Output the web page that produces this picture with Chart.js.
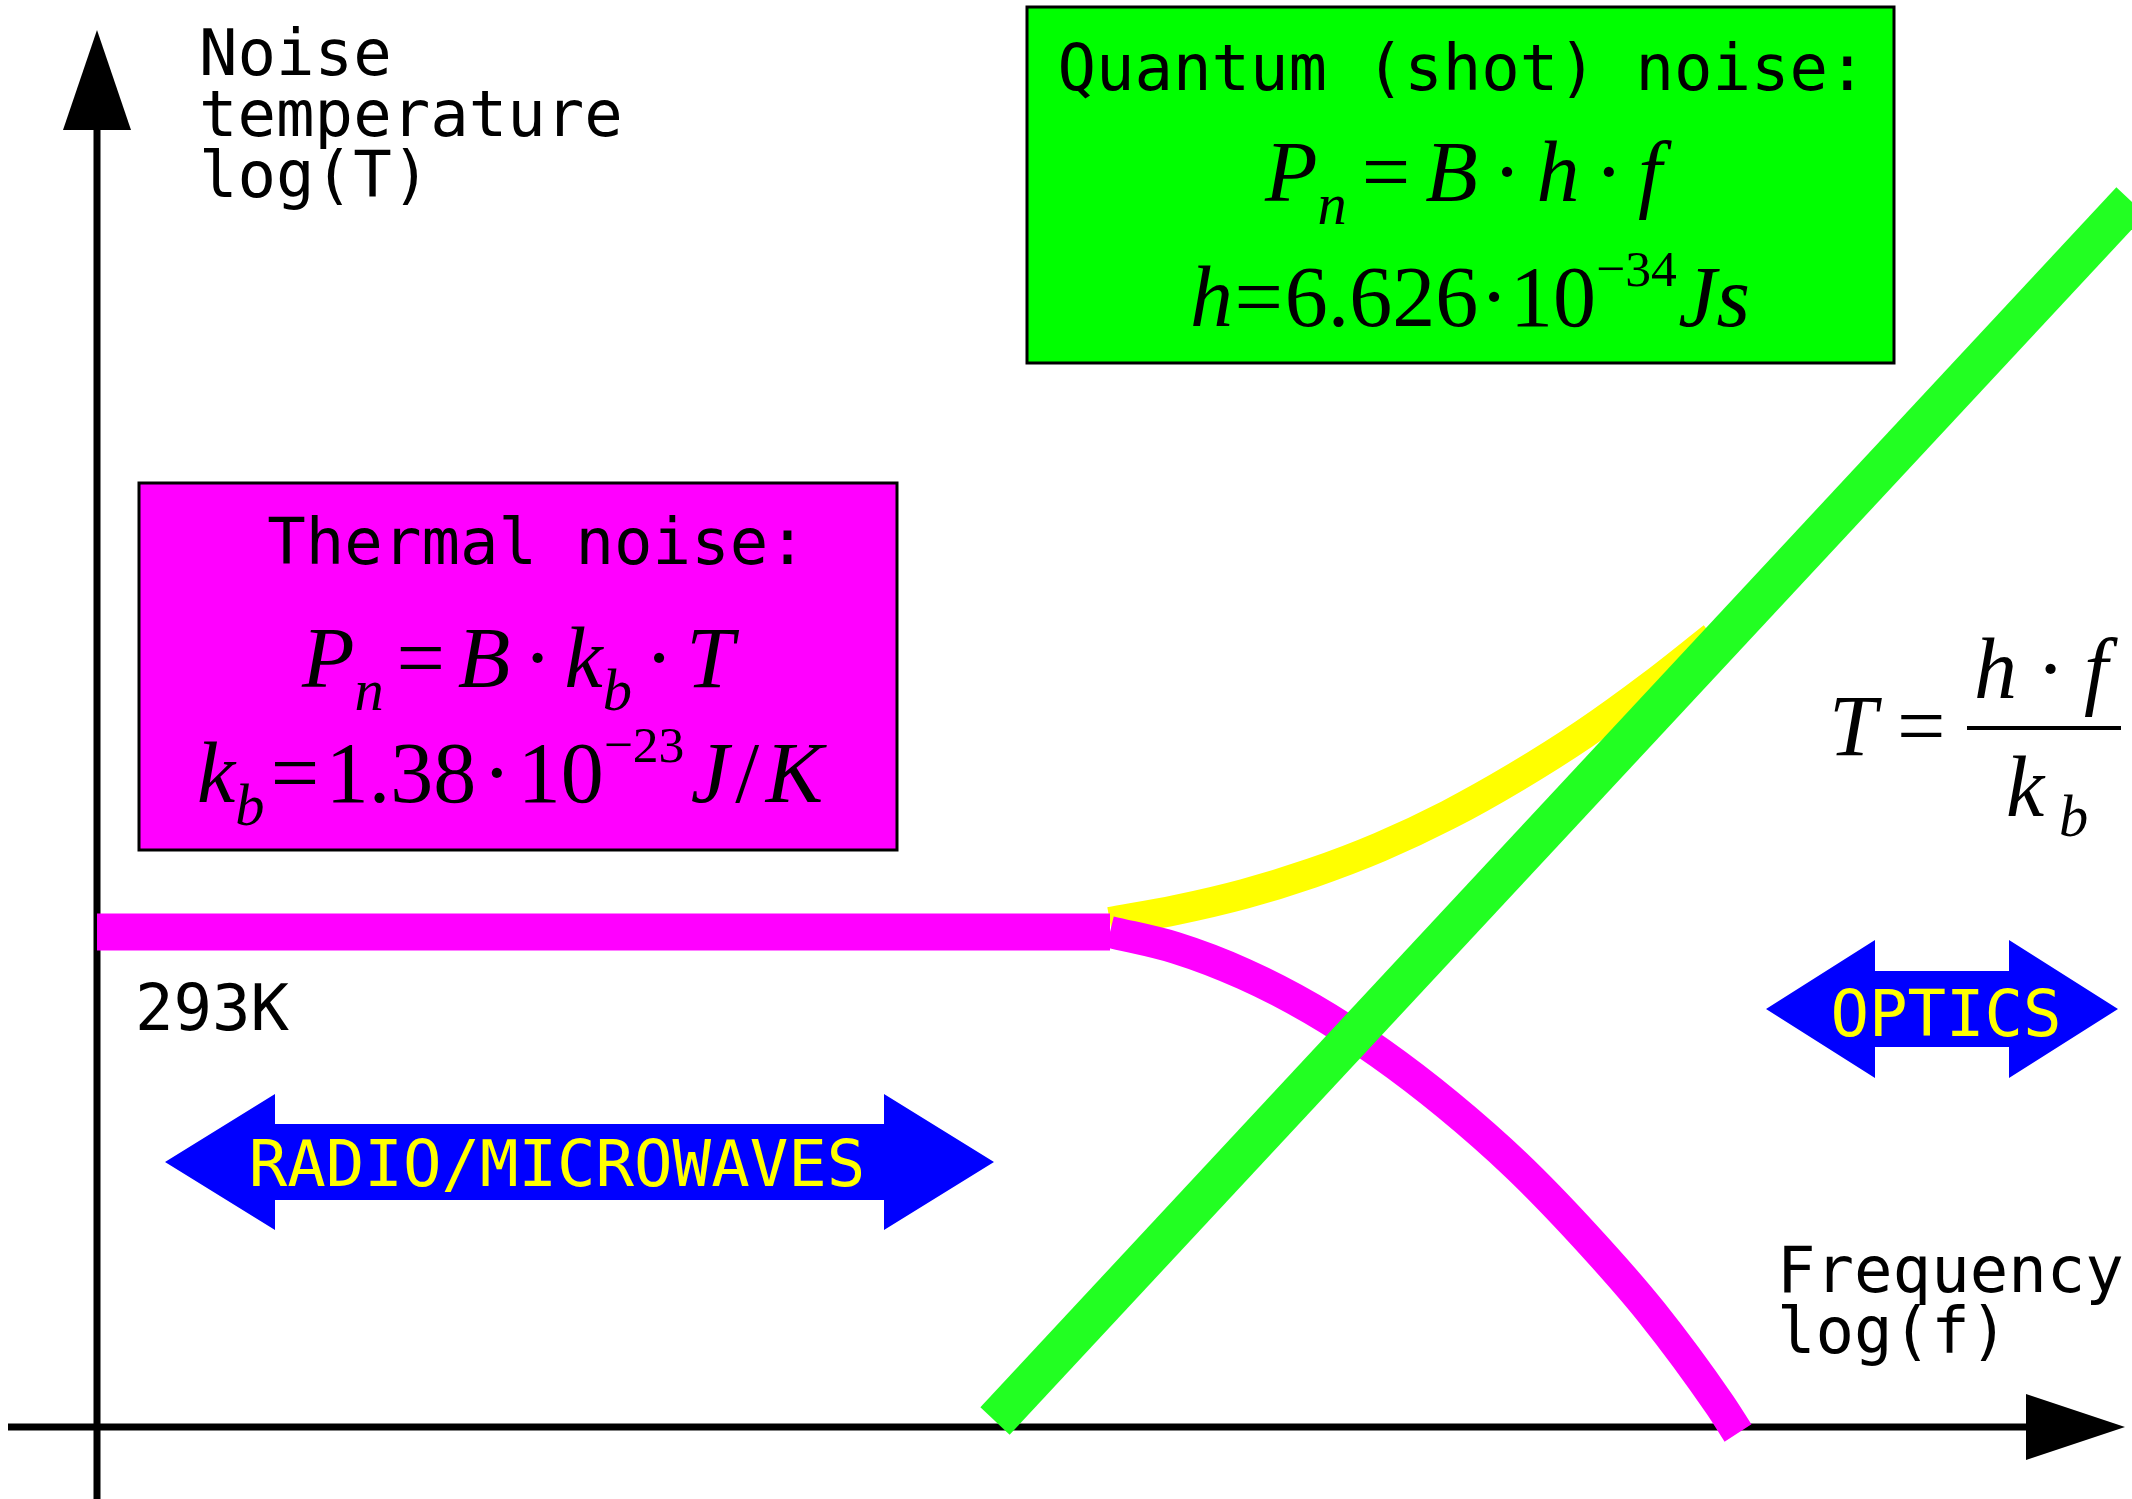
<!DOCTYPE html>
<html>
<head>
<meta charset="utf-8">
<script src="https://cdn.jsdelivr.net/npm/chart.js@4.4.1/dist/chart.umd.min.js"></script>
<style>
  html, body { margin: 0; padding: 0; background: #fff; }
  #wrap { width: 2132px; height: 1499px; position: relative; }
</style>
</head>
<body>
<div id="wrap"><canvas id="noiseChart"></canvas></div>
<script>
// sketch units: x = log(f), y = log(T), origin where the two axes cross
const thermalFlat = [[0, 495], [1013, 495]];
const thermalRolloff = [[1013, 495], [1079, 479], [1147, 453], [1215, 418], [1283, 374], [1351, 322], [1419, 262], [1487, 192], [1555, 114], [1623, 22], [1641, -6]];
const totalNoise = [[1013, 505], [1079, 517], [1147, 533], [1215, 554], [1283, 580], [1351, 612], [1419, 650], [1487, 693], [1555, 742], [1616, 790]];
const quantumLine = [[898, 6], [2034, 1226]];

const xLabelLines = ["Frequency", "log(f)"];
const yLabelLines = ["Noise", "temperature", "log(T)"];
const roomTempLabel = "293K";
const bandLabels = ["RADIO/MICROWAVES", "OPTICS"];

const MONO = '"DejaVu Sans Mono", monospace';
const SERIF = '"Liberation Serif", "Times New Roman", serif';
const MATH_SIZE = 86;
const LABEL_SIZE = 64;

const toXY = pts => pts.map(p => ({ x: p[0], y: p[1] }));

function mathFont(size, italic) {
    return (italic ? "italic " : "") + size + "px " + SERIF;
}

// lays out a run of formula pieces between left and right, spreading the leftover space
function drawMath(ctx, runs, left, right, base, size) {
    const widths = runs.map(r => {
        ctx.font = mathFont(size * (r.s || 1), r.it);
        return ctx.measureText(r.t).width;
    });
    const total = widths.reduce((a, b) => a + b, 0);
    const gaps = runs.filter((r, i) => i > 0 && !r.join).length;
    const gap = gaps ? ((right - left) - total) / gaps : 0;
    let x = left;
    runs.forEach((r, i) => {
        if (i > 0 && !r.join) x += gap;
        ctx.font = mathFont(size * (r.s || 1), r.it);
        ctx.fillText(r.t, x, base + (r.dy || 0) * size);
        x += widths[i];
    });
}

const SUB = 0.27, SUP = -0.47;

const noteLayer = {
    id: "noteLayer",
    beforeDatasetsDraw(chart) {
        const ctx = chart.ctx;
        const xs = chart.scales.x, ys = chart.scales.y;
        const px = v => xs.getPixelForValue(v);
        const py = v => ys.getPixelForValue(v);

        ctx.save();
        ctx.fillStyle = "#000";
        ctx.strokeStyle = "#000";
        ctx.lineWidth = 7;

        // y axis with arrow head
        ctx.beginPath();
        ctx.moveTo(px(0), py(-72));
        ctx.lineTo(px(0), py(1300));
        ctx.stroke();
        ctx.beginPath();
        ctx.moveTo(px(0), py(1397));
        ctx.lineTo(px(-34), py(1297));
        ctx.lineTo(px(34), py(1297));
        ctx.closePath();
        ctx.fill();

        // x axis with arrow head
        ctx.beginPath();
        ctx.moveTo(px(-89), py(0));
        ctx.lineTo(px(1935), py(0));
        ctx.stroke();
        ctx.beginPath();
        ctx.moveTo(px(2028), py(0));
        ctx.lineTo(px(1929), py(33));
        ctx.lineTo(px(1929), py(-33));
        ctx.closePath();
        ctx.fill();
        ctx.restore();
    },
    afterDatasetsDraw(chart) {
        const ctx = chart.ctx;
        const xs = chart.scales.x, ys = chart.scales.y;
        const px = v => xs.getPixelForValue(v);
        const py = v => ys.getPixelForValue(v);

        ctx.save();
        ctx.textBaseline = "alphabetic";

        // axis titles
        ctx.fillStyle = "#000";
        ctx.font = LABEL_SIZE + "px " + MONO;
        ctx.textAlign = "left";
        [1352, 1291, 1230].forEach((b, i) => ctx.fillText(yLabelLines[i], px(102), py(b)));
        [135, 74].forEach((b, i) => ctx.fillText(xLabelLines[i], px(1680), py(b)));
        ctx.fillText(roomTempLabel, px(38), py(397));

        // boxes
        function box(x1, x2, y1, y2, fill) {
            ctx.fillStyle = fill;
            ctx.fillRect(px(x1), py(y1), px(x2) - px(x1), py(y2) - py(y1));
            ctx.lineWidth = 3;
            ctx.strokeStyle = "#000";
            ctx.strokeRect(px(x1), py(y1), px(x2) - px(x1), py(y2) - py(y1));
        }
        box(930, 1797, 1420, 1064, "#00ff00");
        box(42, 800, 944, 577, "#ff00ff");

        ctx.fillStyle = "#000";
        ctx.font = LABEL_SIZE + "px " + MONO;
        ctx.textAlign = "center";
        ctx.fillText("Quantum (shot) noise:", px(1365), py(1337));
        ctx.fillText("Thermal noise:", px(440), py(863));

        ctx.textAlign = "left";
        drawMath(ctx, [
            { t: "P", it: true }, { t: "n", it: true, s: 0.68, dy: SUB, join: true },
            { t: "=" }, { t: "B", it: true }, { t: "·" }, { t: "h", it: true }, { t: "·" }, { t: "f", it: true }
        ], px(1168), px(1565), py(1226), MATH_SIZE);
        drawMath(ctx, [
            { t: "h", it: true }, { t: "=" }, { t: "6.626" }, { t: "·" }, { t: "10" },
            { t: "−34", s: 0.6, dy: SUP, join: true }, { t: "Js", it: true }
        ], px(1093), px(1653), py(1101), MATH_SIZE);
        drawMath(ctx, [
            { t: "P", it: true }, { t: "n", it: true, s: 0.68, dy: SUB, join: true },
            { t: "=" }, { t: "B", it: true }, { t: "·" }, { t: "k", it: true },
            { t: "b", it: true, s: 0.68, dy: SUB, join: true }, { t: "·" }, { t: "T", it: true }
        ], px(205), px(637), py(740), MATH_SIZE);
        drawMath(ctx, [
            { t: "k", it: true }, { t: "b", it: true, s: 0.68, dy: SUB, join: true },
            { t: "=" }, { t: "1.38" }, { t: "·" }, { t: "10" },
            { t: "−23", s: 0.6, dy: SUP, join: true }, { t: "J", it: true }, { t: "/" }, { t: "K", it: true }
        ], px(100), px(726), py(625), MATH_SIZE);

        // T = h·f / k_b
        ctx.font = mathFont(MATH_SIZE, true);
        ctx.fillText("T", px(1732), py(672));
        ctx.font = mathFont(MATH_SIZE, false);
        ctx.fillText("=", px(1800), py(672));
        ctx.lineWidth = 4;
        ctx.beginPath();
        ctx.moveTo(px(1870), py(699));
        ctx.lineTo(px(2024), py(699));
        ctx.stroke();
        drawMath(ctx, [{ t: "h", it: true }, { t: "·" }, { t: "f", it: true }], px(1877), px(2011), py(729), MATH_SIZE);
        ctx.font = mathFont(MATH_SIZE, true);
        ctx.fillText("k", px(1909), py(611));
        ctx.font = mathFont(MATH_SIZE * 0.68, true);
        ctx.fillText("b", px(1962), py(591));

        // band arrows
        function doubleArrow(x1, x2, yc, hh, sh, hl, label, tx, tb) {
            ctx.fillStyle = "#0000ff";
            ctx.beginPath();
            ctx.moveTo(px(x1), py(yc));
            ctx.lineTo(px(x1 + hl), py(yc + hh));
            ctx.lineTo(px(x1 + hl), py(yc + sh));
            ctx.lineTo(px(x2 - hl), py(yc + sh));
            ctx.lineTo(px(x2 - hl), py(yc + hh));
            ctx.lineTo(px(x2), py(yc));
            ctx.lineTo(px(x2 - hl), py(yc - hh));
            ctx.lineTo(px(x2 - hl), py(yc - sh));
            ctx.lineTo(px(x1 + hl), py(yc - sh));
            ctx.lineTo(px(x1 + hl), py(yc - hh));
            ctx.closePath();
            ctx.fill();
            ctx.fillStyle = "#ffff00";
            ctx.font = LABEL_SIZE + "px " + MONO;
            ctx.textAlign = "center";
            ctx.fillText(label, px(tx), py(tb));
        }
        doubleArrow(68, 897, 265, 68, 38, 110, bandLabels[0], 460, 241);
        doubleArrow(1669, 2021, 418, 69, 38, 109, bandLabels[1], 1849, 391);

        ctx.restore();
    }
};

new Chart(document.getElementById("noiseChart"), {
    type: "line",
    data: {
        datasets: [
            {
                label: "Quantum noise",
                data: toXY(quantumLine),
                borderColor: "#22ff22",
                borderWidth: 40
            },
            {
                label: "Thermal roll-off",
                data: toXY(thermalRolloff),
                borderColor: "#ff00ff",
                borderWidth: 32,
                cubicInterpolationMode: "monotone"
            },
            {
                label: "Thermal",
                data: toXY(thermalFlat),
                borderColor: "#ff00ff",
                borderWidth: 37
            },
            {
                label: "Total",
                data: toXY(totalNoise),
                borderColor: "#ffff00",
                borderWidth: 30,
                cubicInterpolationMode: "monotone"
            }
        ]
    },
    options: {
        animation: false,
        responsive: true,
        maintainAspectRatio: false,
        events: [],
        layout: { padding: 0 },
        elements: { point: { radius: 0 }, line: { fill: false, borderCapStyle: "butt", borderJoinStyle: "round" } },
        plugins: {
            legend: { display: false },
            tooltip: { enabled: false }
        },
        scales: {
            x: { type: "linear", min: -97, max: 2035, display: false },
            y: { type: "linear", min: -72, max: 1427, display: false }
        }
    },
    plugins: [noteLayer]
});
</script>
</body>
</html>
